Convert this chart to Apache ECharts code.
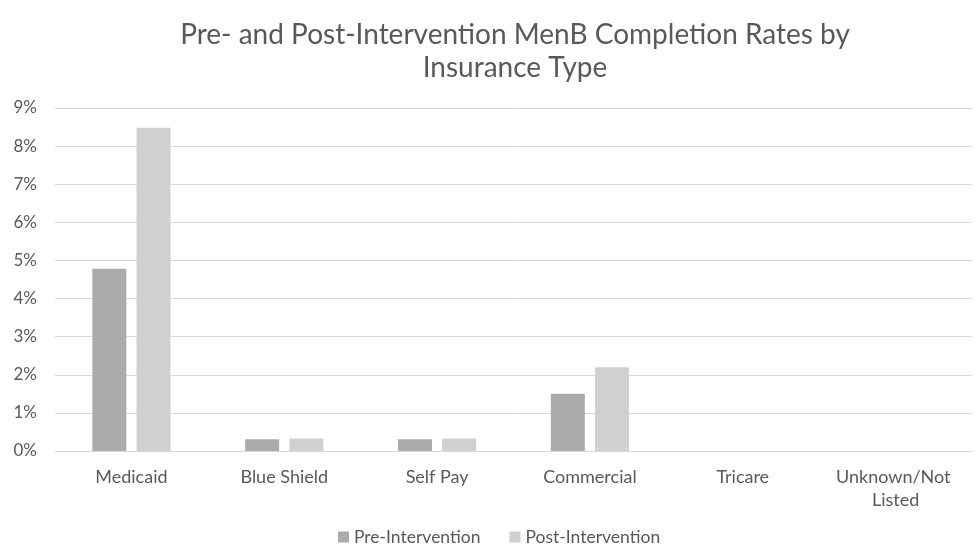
<!DOCTYPE html>
<html>
<head>
<meta charset="utf-8">
<script src="https://cdn.jsdelivr.net/npm/echarts@6/dist/echarts.min.js"></script>
<style>html,body{margin:0;padding:0;background:#fff;}#c{width:975px;height:552px;}</style>
</head>
<body>
<div id="c"></div>
<script>
const categories = ['Medicaid', 'Blue Shield', 'Self Pay', 'Commercial', 'Tricare', 'Unknown/Not Listed'];
const preIntervention = [4.78, 0.31, 0.31, 1.50, 0, 0];
const postIntervention = [8.48, 0.33, 0.33, 2.20, 0, 0];
const seriesNames = ['Pre-Intervention', 'Post-Intervention'];
const titleText = 'Pre- and Post-Intervention MenB Completion Rates by\nInsurance Type';

const FONT = 'Lato, "Open Sans", sans-serif';
const chart = echarts.init(document.getElementById('c'), null, {renderer: 'canvas'});
chart.setOption({
  animation: false,
  backgroundColor: '#ffffff',
  title: {
    text: titleText,
    left: 510,
    textAlign: 'center',
    top: 13,
    textStyle: {color: '#595959', fontSize: 28, fontWeight: 'normal', fontFamily: FONT, lineHeight: 33}
  },
  legend: {
    bottom: 1,
    left: 333,
    icon: 'rect',
    itemWidth: 11,
    itemHeight: 11,
    itemGap: 29,
    textStyle: {color: '#595959', fontSize: 17.5, fontFamily: FONT},
    data: seriesNames
  },
  grid: {left: 55, right: 3, top: 108, bottom: 101, containLabel: false},
  xAxis: {
    type: 'category',
    data: categories,
    axisLine: {lineStyle: {color: '#d9d9d9', width: 1}},
    axisTick: {show: false},
    axisLabel: {color: '#595959', fontSize: 18, fontFamily: FONT, margin: 15, width: 125, overflow: 'break', lineHeight: 23, interval: 0}
  },
  yAxis: {
    type: 'value',
    min: 0,
    max: 9,
    interval: 1,
    axisLine: {show: false},
    axisTick: {show: false},
    splitLine: {lineStyle: {color: '#d9d9d9', width: 1}},
    axisLabel: {color: '#595959', fontSize: 17, fontFamily: FONT, formatter: v => v + '%', margin: 18, align: 'right'}
  },
  series: [
    {name: seriesNames[0], type: 'bar', data: preIntervention, barWidth: 34, barGap: '30%', itemStyle: {color: '#ababab'}},
    {name: seriesNames[1], type: 'bar', data: postIntervention, barWidth: 34, itemStyle: {color: '#d0d0d0'}}
  ]
});
</script>
</body>
</html>
